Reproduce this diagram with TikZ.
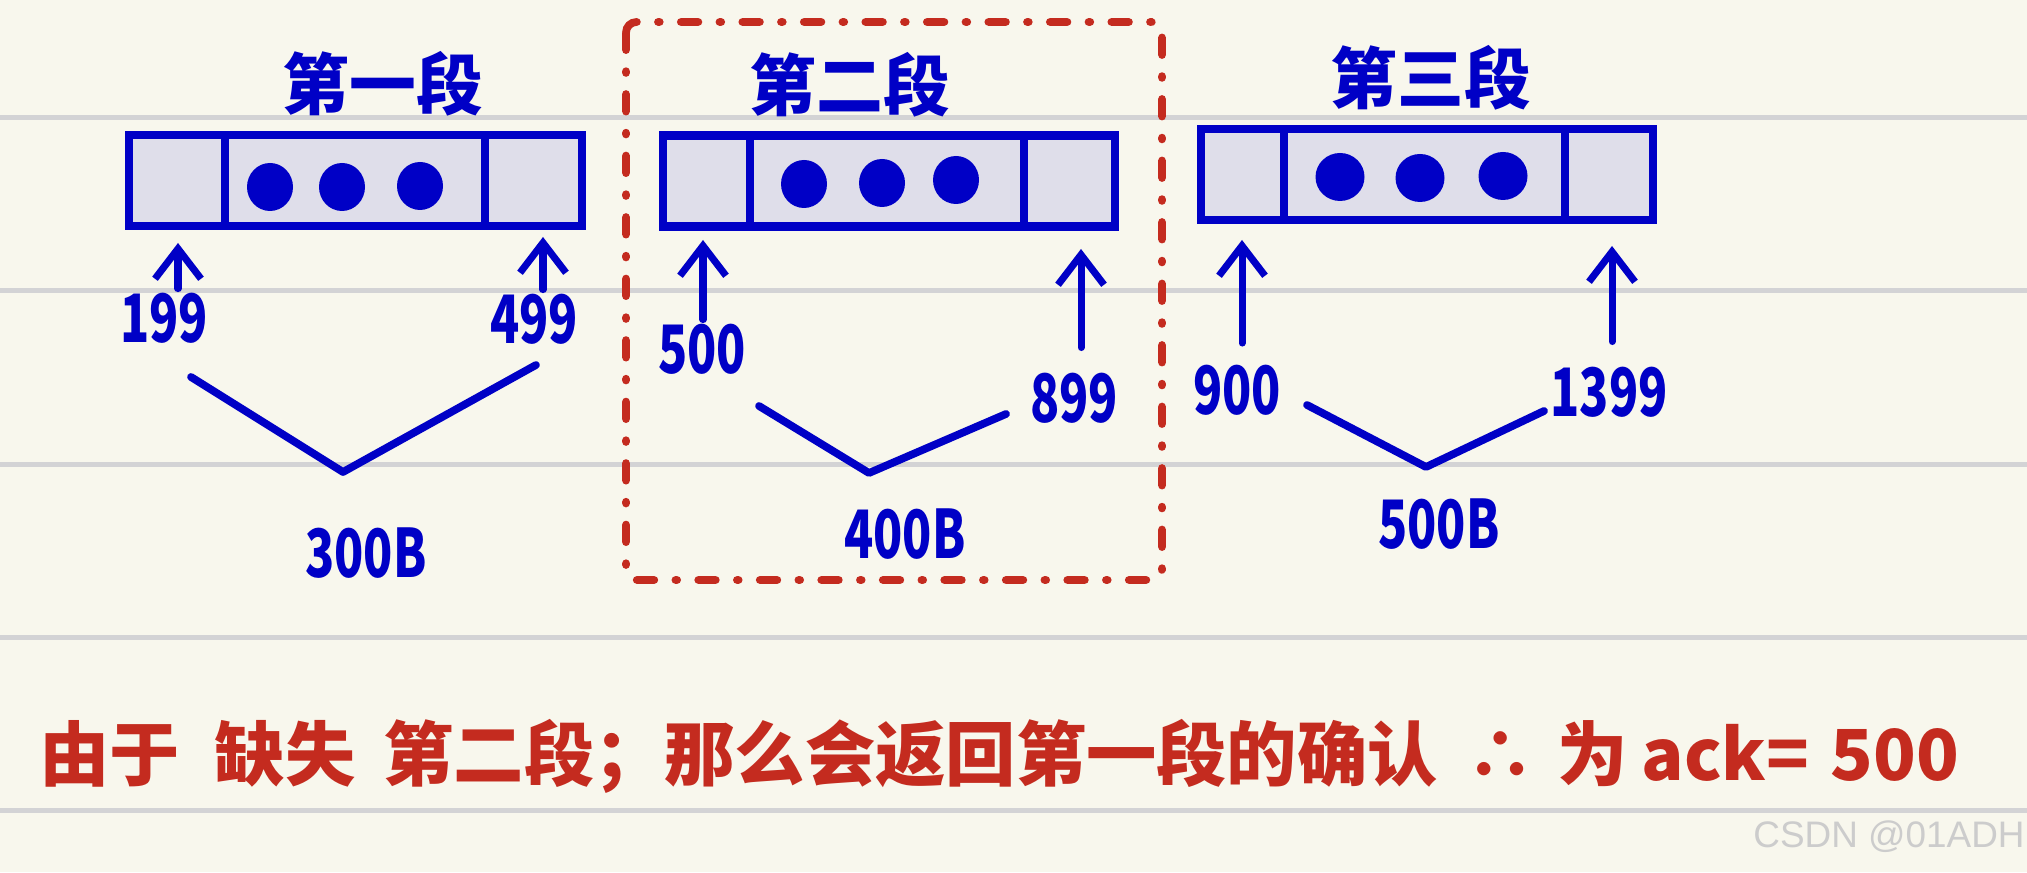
\documentclass[tikz,border=0pt]{standalone}
\usepackage{fontspec}
\setmainfont{Noto Sans CJK SC}
\newfontfamily\wmfont{Liberation Sans}
\definecolor{pen}{HTML}{0000C6}
\definecolor{ink}{HTML}{C42B1F}
\definecolor{paper}{HTML}{F8F7ED}
\definecolor{cellbg}{HTML}{DFDEEA}
\definecolor{ruled}{HTML}{D3D3D5}
\usetikzlibrary{calc, positioning, arrows.meta}

\begin{document}
\begin{tikzpicture}[
  cell/.style={draw=pen, fill=cellbg, line width=2.3pt, minimum height=0.91cm,
               inner sep=0pt, outer sep=0pt},
  ttl/.style={text=pen, font=\fontsize{19}{19}\selectfont\bfseries},
  num/.style={text=pen, font=\fontsize{19}{19}\selectfont\bfseries, inner sep=1pt,
              xscale=0.72},
  up/.style={draw=pen, line width=2pt, line cap=round,
             -{Straight Barb[length=3mm, width=4.6mm]}},
  vee/.style={draw=pen, line width=2.2pt, line cap=round, line join=round},
  lost/.style={draw=ink, line width=2.2pt, line cap=round, rounded corners=3pt,
               dash pattern=on 5pt off 6pt on 0.5pt off 6pt},
]
\fill[paper] (0,0) rectangle (20.27,8.72);
\useasboundingbox (0,0) rectangle (20.27,8.72);
\foreach \y in {7.544,5.811,4.079,2.347,0.615}
  \draw[ruled, line width=1.4pt] (0,\y) -- (20.27,\y);

\node[ttl] (t1) at (3.83,7.88) {第一段};
\node[cell, minimum width=0.96cm] (s1a) at (1.77,6.915) {};
\node[cell, minimum width=2.60cm, right=0pt of s1a] (s1b) {};
\node[cell, minimum width=0.97cm, right=0pt of s1b] (s1c) {};
\fill[pen] (2.70,6.85) ellipse (0.23 and 0.24);
\fill[pen] (3.42,6.85) ellipse (0.23 and 0.24);
\fill[pen] (4.20,6.86) ellipse (0.23 and 0.24);

\node[ttl] (t2) at (8.50,7.87) {第二段};
\node[cell, minimum width=0.87cm] (s2a) at (7.065,6.91) {};
\node[cell, minimum width=2.74cm, right=0pt of s2a] (s2b) {};
\node[cell, minimum width=0.91cm, right=0pt of s2b] (s2c) {};
\fill[pen] (8.04,6.88) ellipse (0.23 and 0.24);
\fill[pen] (8.82,6.89) ellipse (0.23 and 0.24);
\fill[pen] (9.56,6.92) ellipse (0.23 and 0.24);

\node[ttl] (t3) at (14.31,7.94) {第三段};
\node[cell, minimum width=0.83cm] (s3a) at (12.425,6.975) {};
\node[cell, minimum width=2.81cm, right=0pt of s3a] (s3b) {};
\node[cell, minimum width=0.88cm, right=0pt of s3b] (s3c) {};
\fill[pen] (13.40,6.95) ellipse (0.245 and 0.24);
\fill[pen] (14.20,6.94) ellipse (0.245 and 0.24);
\fill[pen] (15.03,6.96) ellipse (0.245 and 0.24);

\node[num] (l199) at (1.64,5.54) {199};
\node[num] (l499) at (5.34,5.53) {499};
\node[num] (l500) at (7.02,5.23) {500};
\node[num] (l899) at (10.74,4.74) {899};
\node[num] (l900) at (12.37,4.82) {900};
\node[num] (l1399) at (16.09,4.80) {1399};

\coordinate (h199) at (1.78,6.29);
\coordinate (h499) at (5.43,6.35);
\coordinate (h500) at (7.03,6.32);
\coordinate (h899) at (10.81,6.23);
\coordinate (h900) at (12.42,6.32);
\coordinate (h1399) at (16.12,6.26);
\draw[up] (l199.north -| h199) -- (h199);
\draw[up] (l499.north -| h499) -- (h499);
\draw[up] (l500.north -| h500) -- (h500);
\draw[up, shorten <=6pt] (l899.north -| h899) -- (h899);
\draw[up, shorten <=5pt] (l900.north -| h900) -- (h900);
\draw[up, shorten <=6pt] (l1399.north -| h1399) -- (h1399);

\draw[vee] (1.91,4.95) -- (3.43,4.00) -- (5.36,5.07);
\draw[vee] (7.59,4.66) -- (8.69,3.99) -- (10.06,4.58);
\draw[vee] (13.07,4.67) -- (14.26,4.05) -- (15.44,4.61);
\node[num] (b300) at (3.66,3.19) {300B};
\node[num] (b400) at (9.05,3.38) {400B};
\node[num] (b500) at (14.39,3.48) {500B};

\draw[lost] (6.26,8.50) rectangle (11.62,2.92);

\node[text=ink, font=\fontsize{20}{20}\selectfont\bfseries] (why) at (9.99,1.16)
  {由于\hspace{0.5em}缺失\hspace{0.4em}第二段；那么会返回第一段的确认\hspace{0.4em}∴\hspace{0.3em}为\hspace{0.2em}ack=\hspace{0.3em}500};
\node[text=black!20, font=\wmfont\fontsize{10.5}{10.5}\selectfont] (wm) at (18.89,0.35) {CSDN @01ADH};
\end{tikzpicture}
\end{document}
